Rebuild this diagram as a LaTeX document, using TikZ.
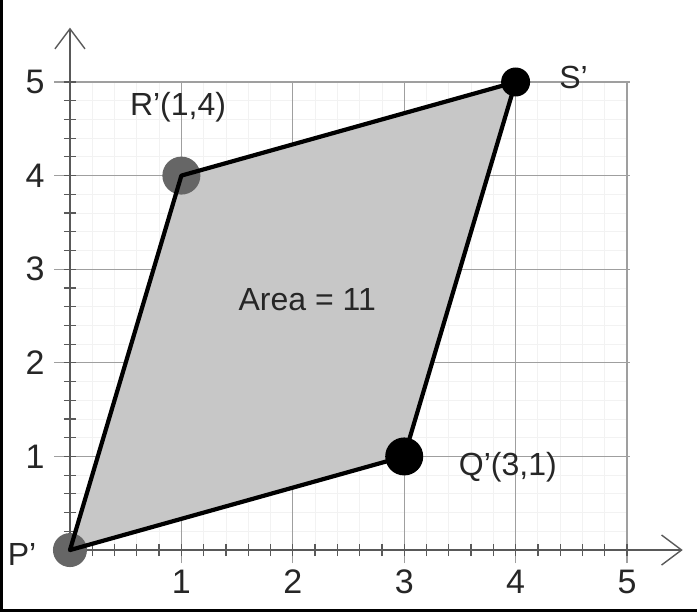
\documentclass[tikz,border=0pt]{standalone}
\usepackage{fontspec}
\setmainfont{Liberation Sans}
\usetikzlibrary{arrows.meta}

\tikzset{
  lbl/.style={font=\fontsize{32}{38}\selectfont, text=black!85, inner sep=0pt},
  numlbl/.style={font=\fontsize{34}{40}\selectfont, text=black!85, inner sep=0pt},
  greydot/.style={circle, fill=black!60, inner sep=0pt},
  blackdot/.style={circle, fill=black, inner sep=0pt},
  gridline/.style={gray!75, line width=1.3pt},
  axisline/.style={black!65, line width=1.4pt, -{Straight Barb[length=20pt,width=30pt,line width=1.4pt]}}
}

\begin{document}
\begin{tikzpicture}[x=111.4pt,y=93.6pt]
        \useasboundingbox (-0.628,-0.662) rectangle (5.628,5.876);
        \fill[black] (-0.628,-0.662) rectangle (-0.601,5.876);
        \fill[black] (-0.628,-0.662) rectangle (5.628,-0.630);

        % grid
        \draw[black!5, line width=0.8pt, step=0.2] (0,0) grid (5,5);
        \foreach \i in {1,...,5} {
          \draw[gridline] (\i,-0.14) -- (\i,5);
          \draw[gridline] (-0.14,\i) -- (5.03,\i);
        }

        \coordinate (P) at (0,0);
        \coordinate (Q) at (3,1);
        \coordinate (S) at (4,5);
        \coordinate (R) at (1,4);
        \fill[black!22] (P) -- (Q) -- (S) -- (R) -- cycle;

        % axes
        \draw[axisline] (0,0) -- (5.5,0);
        \draw[axisline] (0,-0.05) -- (0,5.58);
        \foreach \k in {1,...,25} {
          \draw[black!65, line width=1.2pt] (\k/5,-0.065) -- (\k/5,0.065);
          \draw[black!65, line width=1.2pt] (-0.054,\k/5) -- (0.054,\k/5);
        }
        \foreach \i in {1,...,5} {
          \node[numlbl] (xl\i) at (\i,-0.34) {\i};
          \node[numlbl] (yl\i) at (-0.314,\i) {\i};
        }

        % points
        \node[greydot, minimum size=34pt] (Pdot) at (P) {};
        \node[greydot, minimum size=38pt] (Rdot) at (R) {};
        \node[blackdot, minimum size=38pt] (Qdot) at (Q) {};
        \node[blackdot, minimum size=29pt] (Sdot) at (S) {};
        \draw[line width=4.2pt, line join=round] (P) -- (Q) -- (S) -- (R) -- cycle;

        \node[lbl] (Plbl) at (-0.43,-0.05) {P'};
        \node[lbl] (Qlbl) at (3.93,0.89) {Q'(3,1)};
        \node[lbl] (Rlbl) at (0.97,4.73) {R'(1,4)};
        \node[lbl] (Slbl) at (4.52,5.05) {S'};
        \node[lbl] (area) at (2.13,2.67) {Area = 11};
\end{tikzpicture}
\end{document}
